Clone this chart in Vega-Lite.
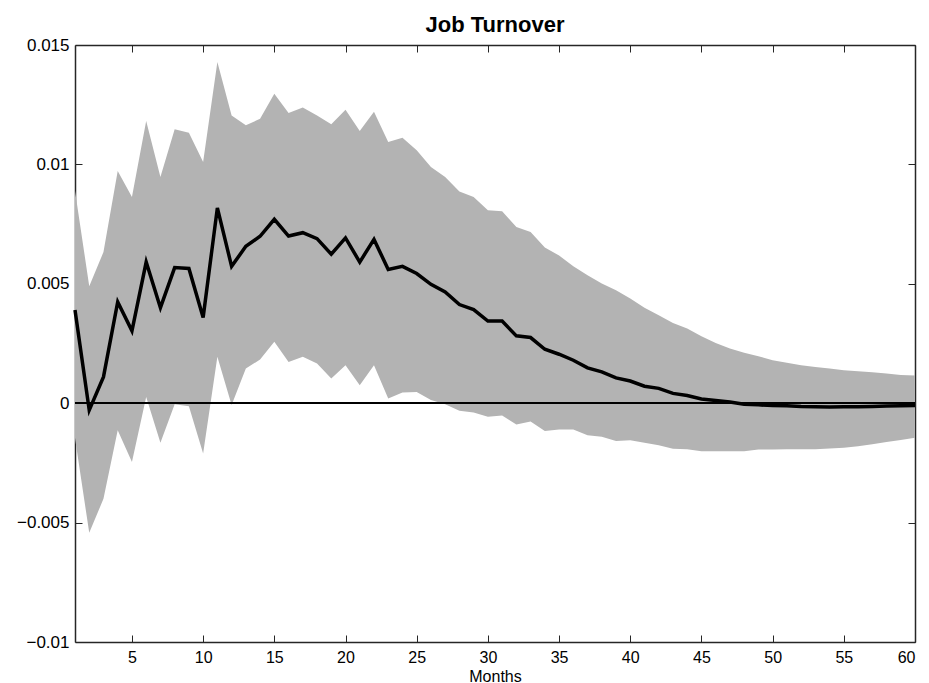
{
  "$schema": "https://vega.github.io/schema/vega-lite/v6.json",
  "autosize": "none",
  "width": 840,
  "height": 597,
  "padding": {"left": 75, "top": 45, "right": 14, "bottom": 41},
  "background": "white",
  "title": {
    "text": "Job Turnover",
    "font": "Liberation Sans",
    "fontSize": 22,
    "fontWeight": "bold",
    "color": "black",
    "anchor": "middle",
    "baseline": "alphabetic",
    "offset": -18
  },
  "config": {
    "view": {"stroke": null},
    "font": "Liberation Sans",
    "axis": {
      "grid": false,
      "domainColor": "#262626",
      "domainWidth": 1.5,
      "tickColor": "#262626",
      "tickWidth": 1,
      "tickSize": -7,
      "labelFont": "Liberation Sans",
      "labelFontSize": 17,
      "labelColor": "black",
      "titleFont": "Liberation Sans",
      "titleFontSize": 16,
      "titleFontWeight": "normal",
      "titleColor": "black"
    }
  },
  "resolve": {"axis": {"x": "independent", "y": "independent"}},
  "data": {
    "values": [
      {"month": 1, "mean": 0.0039, "lower": -0.00146, "upper": 0.0089},
      {"month": 2, "mean": -0.00029, "lower": -0.00543, "upper": 0.0049},
      {"month": 3, "mean": 0.0011, "lower": -0.004, "upper": 0.00633},
      {"month": 4, "mean": 0.00424, "lower": -0.00113, "upper": 0.00972},
      {"month": 5, "mean": 0.00303, "lower": -0.00246, "upper": 0.00864},
      {"month": 6, "mean": 0.00591, "lower": 0.00026, "upper": 0.01182},
      {"month": 7, "mean": 0.004, "lower": -0.00166, "upper": 0.00947},
      {"month": 8, "mean": 0.00568, "lower": -0.00004, "upper": 0.01147},
      {"month": 9, "mean": 0.00564, "lower": -0.00013, "upper": 0.01133},
      {"month": 10, "mean": 0.00359, "lower": -0.00211, "upper": 0.0101},
      {"month": 11, "mean": 0.00818, "lower": 0.00194, "upper": 0.01429},
      {"month": 12, "mean": 0.00573, "lower": -0.00008, "upper": 0.01205},
      {"month": 13, "mean": 0.00657, "lower": 0.00145, "upper": 0.01164},
      {"month": 14, "mean": 0.00699, "lower": 0.00183, "upper": 0.01191},
      {"month": 15, "mean": 0.0077, "lower": 0.00257, "upper": 0.01296},
      {"month": 16, "mean": 0.007, "lower": 0.00173, "upper": 0.01215},
      {"month": 17, "mean": 0.00714, "lower": 0.00194, "upper": 0.01238},
      {"month": 18, "mean": 0.00689, "lower": 0.00166, "upper": 0.01205},
      {"month": 19, "mean": 0.00624, "lower": 0.00103, "upper": 0.01168},
      {"month": 20, "mean": 0.00692, "lower": 0.00159, "upper": 0.01229},
      {"month": 21, "mean": 0.00591, "lower": 0.00075, "upper": 0.0114},
      {"month": 22, "mean": 0.00686, "lower": 0.00159, "upper": 0.0122},
      {"month": 23, "mean": 0.0056, "lower": 0.0002, "upper": 0.01094},
      {"month": 24, "mean": 0.00573, "lower": 0.00045, "upper": 0.01112},
      {"month": 25, "mean": 0.00543, "lower": 0.00047, "upper": 0.01059},
      {"month": 26, "mean": 0.00498, "lower": 0.00013, "upper": 0.00989},
      {"month": 27, "mean": 0.00466, "lower": -0.00004, "upper": 0.00947},
      {"month": 28, "mean": 0.00413, "lower": -0.00032, "upper": 0.00887},
      {"month": 29, "mean": 0.00392, "lower": -0.00039, "upper": 0.00864},
      {"month": 30, "mean": 0.00344, "lower": -0.00057, "upper": 0.00808},
      {"month": 31, "mean": 0.00344, "lower": -0.00052, "upper": 0.00804},
      {"month": 32, "mean": 0.00282, "lower": -0.00089, "upper": 0.00738},
      {"month": 33, "mean": 0.00275, "lower": -0.00077, "upper": 0.00717},
      {"month": 34, "mean": 0.00226, "lower": -0.00116, "upper": 0.00652},
      {"month": 35, "mean": 0.00205, "lower": -0.0011, "upper": 0.00619},
      {"month": 36, "mean": 0.0018, "lower": -0.0011, "upper": 0.00573},
      {"month": 37, "mean": 0.00148, "lower": -0.00134, "upper": 0.00536},
      {"month": 38, "mean": 0.00131, "lower": -0.00141, "upper": 0.00501},
      {"month": 39, "mean": 0.00106, "lower": -0.00158, "upper": 0.00473},
      {"month": 40, "mean": 0.00093, "lower": -0.00155, "upper": 0.00438},
      {"month": 41, "mean": 0.00071, "lower": -0.00166, "upper": 0.004},
      {"month": 42, "mean": 0.00062, "lower": -0.00176, "upper": 0.00368},
      {"month": 43, "mean": 0.00041, "lower": -0.00191, "upper": 0.00336},
      {"month": 44, "mean": 0.00032, "lower": -0.00193, "upper": 0.00313},
      {"month": 45, "mean": 0.00018, "lower": -0.00201, "upper": 0.0028},
      {"month": 46, "mean": 0.00011, "lower": -0.00201, "upper": 0.00252},
      {"month": 47, "mean": 0.00005, "lower": -0.00201, "upper": 0.00229},
      {"month": 48, "mean": -0.00004, "lower": -0.00201, "upper": 0.00211},
      {"month": 49, "mean": -0.00007, "lower": -0.00194, "upper": 0.00197},
      {"month": 50, "mean": -0.0001, "lower": -0.00194, "upper": 0.0018},
      {"month": 51, "mean": -0.00011, "lower": -0.00193, "upper": 0.00169},
      {"month": 52, "mean": -0.00014, "lower": -0.00193, "upper": 0.00159},
      {"month": 53, "mean": -0.00015, "lower": -0.00193, "upper": 0.00152},
      {"month": 54, "mean": -0.00016, "lower": -0.0019, "upper": 0.00145},
      {"month": 55, "mean": -0.00015, "lower": -0.00187, "upper": 0.00138},
      {"month": 56, "mean": -0.00015, "lower": -0.0018, "upper": 0.00134},
      {"month": 57, "mean": -0.00014, "lower": -0.00172, "upper": 0.0013},
      {"month": 58, "mean": -0.00012, "lower": -0.00162, "upper": 0.00124},
      {"month": 59, "mean": -0.00011, "lower": -0.00154, "upper": 0.00118},
      {"month": 60, "mean": -0.0001, "lower": -0.00145, "upper": 0.00116}
    ]
  },
  "layer": [
    {
      "mark": {"type": "area", "color": "#b3b3b3", "opacity": 1},
      "encoding": {
        "x": {
          "field": "month",
          "type": "quantitative",
          "scale": {"domain": [1, 60], "nice": false, "zero": false},
          "axis": {
            "orient": "bottom",
            "title": "Months",
            "values": [5, 10, 15, 20, 25, 30, 35, 40, 45, 50, 55, 60],
            "labelFontSize": 16,
            "labelPadding": 14,
            "titlePadding": 3
          }
        },
        "y": {
          "field": "lower",
          "type": "quantitative",
          "scale": {"domain": [-0.01, 0.015], "nice": false, "zero": false},
          "axis": {
            "orient": "left",
            "title": null,
            "values": [-0.01, -0.005, 0, 0.005, 0.01, 0.015],
            "format": ".3~f",
            "labelPadding": 13
          }
        },
        "y2": {"field": "upper"}
      }
    },
    {
      "mark": {"type": "rule", "color": "black", "strokeWidth": 1.2},
      "encoding": {"y": {"datum": 0, "type": "quantitative", "axis": null}}
    },
    {
      "mark": {"type": "line", "color": "black", "strokeWidth": 3.5, "strokeJoin": "miter"},
      "encoding": {
        "x": {"field": "month", "type": "quantitative", "axis": null},
        "y": {"field": "mean", "type": "quantitative", "axis": null}
      }
    },
    {
      "mark": {"type": "line", "opacity": 0},
      "encoding": {
        "x": {
          "field": "month",
          "type": "quantitative",
          "axis": {
            "orient": "top",
            "title": null,
            "labels": false,
            "values": [5, 10, 15, 20, 25, 30, 35, 40, 45, 50, 55, 60]
          }
        },
        "y": {
          "field": "mean",
          "type": "quantitative",
          "axis": {
            "orient": "right",
            "title": null,
            "labels": false,
            "values": [-0.01, -0.005, 0, 0.005, 0.01, 0.015]
          }
        }
      }
    }
  ]
}
